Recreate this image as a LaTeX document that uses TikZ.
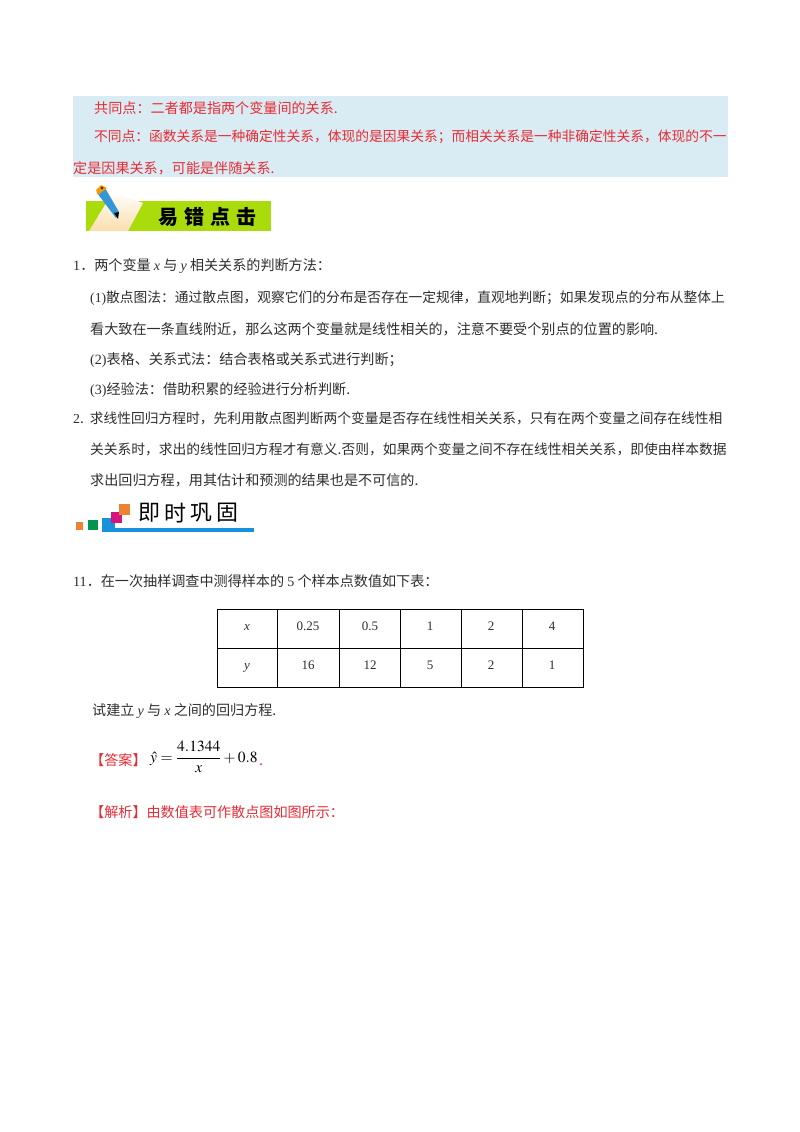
\documentclass[tikz,border=0pt]{standalone}
\usepackage{mathptmx}
\usepackage{fontspec}
\setmainfont{Noto Sans CJK SC}
\newfontfamily\lat{Liberation Serif}
\newcommand{\va}[1]{{\lat\itshape #1}}
\newcommand{\nm}[1]{{\lat #1}}
\definecolor{boxblue}{RGB}{218,236,243}
\definecolor{hintred}{RGB}{232,42,52}
\definecolor{inkgray}{RGB}{45,45,45}
\definecolor{bannergreen}{RGB}{170,220,12}
\definecolor{papercream}{RGB}{250,222,170}
\definecolor{pencilblue}{RGB}{52,150,214}
\definecolor{squareblue}{RGB}{22,146,220}
\definecolor{squareorange}{RGB}{236,130,50}
\definecolor{squaregreen}{RGB}{0,150,80}
\definecolor{squarepink}{RGB}{214,20,128}
\tikzset{
  txt/.style={anchor=base west,inner sep=0pt,text=inkgray,font=\fontsize{14.1}{15}\selectfont},
  tighttxt/.style={txt,font=\fontsize{13.75}{15}\selectfont},
  redtxt/.style={txt,text=hintred},
  cell/.style={anchor=base,inner sep=0pt,text=inkgray,font=\fontsize{13}{14}\selectfont\lat},
  bannertxt/.style={inner sep=0pt,text=black,font=\fontsize{22}{23}\selectfont},
  boldbanner/.style={bannertxt,font=\fontsize{20}{21}\selectfont\bfseries}
}
\begin{document}
\begin{tikzpicture}[x=1pt,y=-1pt]
    \useasboundingbox (0,0) rectangle (800,1132);
    % top box
    \fill[boxblue] (73,96) rectangle (728,177);
    \node[redtxt] (same) at (94,113) {共同点：二者都是指两个变量间的关系.};
    \node[tighttxt,text=hintred] (diffa) at (94,141) {不同点：函数关系是一种确定性关系，体现的是因果关系；而相关关系是一种非确定性关系，体现的不一};
    \node[redtxt] (diffb) at (73,173) {定是因果关系，可能是伴随关系.};
    % first banner
    \fill[bannergreen] (86,201) rectangle (271,231);
    \shade[top color=white,bottom color=papercream] (89,231) -- (113,192) -- (143,203) -- (128,231) -- cycle;
    \fill[pencilblue] (97,193) -- (105,188) -- (119,212) -- (116,218) -- cycle;
    \fill[orange!80!yellow] (96,190) -- (101,185) -- (107,188) -- (98,195) -- cycle;
    \fill[black!80] (102,188) circle (1.6);
    \fill[black] (114,213) -- (119,212) -- (118,219) -- cycle;
    \node[boldbanner] (yi) at (168,217) {易};
    \node[boldbanner] (cuo) at (194,217) {错};
    \node[boldbanner] (dian) at (220,217) {点};
    \node[boldbanner] (ji) at (246,217) {击};
    % notes
    \node[txt] (na) at (73,270) {\nm{1}．两个变量 \va{x} 与 \va{y} 相关关系的判断方法：};
    \node[tighttxt] (nb) at (90,302) {\nm{(1)}散点图法：通过散点图，观察它们的分布是否存在一定规律，直观地判断；如果发现点的分布从整体上};
    \node[txt] (nc) at (90,334) {看大致在一条直线附近，那么这两个变量就是线性相关的，注意不要受个别点的位置的影响.};
    \node[txt] (nd) at (90,364) {\nm{(2)}表格、关系式法：结合表格或关系式进行判断；};
    \node[txt] (ne) at (90,394) {\nm{(3)}经验法：借助积累的经验进行分析判断.};
    \node[tighttxt] (nf) at (73,423) {\nm{2}.\hspace{6pt}求线性回归方程时，先利用散点图判断两个变量是否存在线性相关关系，只有在两个变量之间存在线性相};
    \node[tighttxt] (ng) at (90,454) {关关系时，求出的线性回归方程才有意义.否则，如果两个变量之间不存在线性相关关系，即使由样本数据};
    \node[txt] (nh) at (90,485) {求出回归方程，用其估计和预测的结果也是不可信的.};
    % second banner
    \fill[squareorange] (76,522) rectangle (83,530);
    \fill[squaregreen] (88,520) rectangle (98,530);
    \fill[squareblue] (102,518) rectangle (115,532);
    \fill[squareblue] (102,528) rectangle (254,532);
    \fill[squarepink] (111,512) rectangle (122,523);
    \fill[squareorange] (119,504) rectangle (130,515);
    \node[bannertxt] (jia) at (149,513) {即};
    \node[bannertxt] (jib) at (175,513) {时};
    \node[bannertxt] (jic) at (201,513) {巩};
    \node[bannertxt] (jid) at (227,513) {固};
    % question
    \node[txt] (qa) at (73,586) {\nm{11}．在一次抽样调查中测得样本的 \nm{5} 个样本点数值如下表：};
    % table
    \draw[black,line width=0.8pt] (217,609) rectangle (583,687);
    \draw[black,line width=0.8pt] (217,648) -- (583,648);
    \draw[black,line width=0.8pt] (277,609) -- (277,687);
    \draw[black,line width=0.8pt] (339,609) -- (339,687);
    \draw[black,line width=0.8pt] (400,609) -- (400,687);
    \draw[black,line width=0.8pt] (461,609) -- (461,687);
    \draw[black,line width=0.8pt] (522,609) -- (522,687);
    \node[cell] (xh) at (247,630) {\itshape x};
    \node[cell] (xa) at (308,630) {0.25};
    \node[cell] (xb) at (370,630) {0.5};
    \node[cell] (xc) at (430,630) {1};
    \node[cell] (xd) at (491,630) {2};
    \node[cell] (xe) at (552,630) {4};
    \node[cell] (yh) at (247,669) {\itshape y};
    \node[cell] (ya) at (308,669) {16};
    \node[cell] (yb) at (370,669) {12};
    \node[cell] (yc) at (430,669) {5};
    \node[cell] (yd) at (491,669) {2};
    \node[cell] (ye) at (552,669) {1};
    \node[txt] (qb) at (92,715) {试建立 \va{y} 与 \va{x} 之间的回归方程.};
    % answer
    \node[redtxt] (ans) at (90,765) {【答案】};
    \node[txt,text=black,font=\fontsize{15.5}{17}\selectfont] (frm) at (150,762) {$\displaystyle\hat{y}=\frac{4.1344}{x}+0.8$};
    \node[redtxt] (dot) at (259,765) {.};
    \node[redtxt] (sol) at (90,817) {【解析】由数值表可作散点图如图所示：};
\end{tikzpicture}
\end{document}
